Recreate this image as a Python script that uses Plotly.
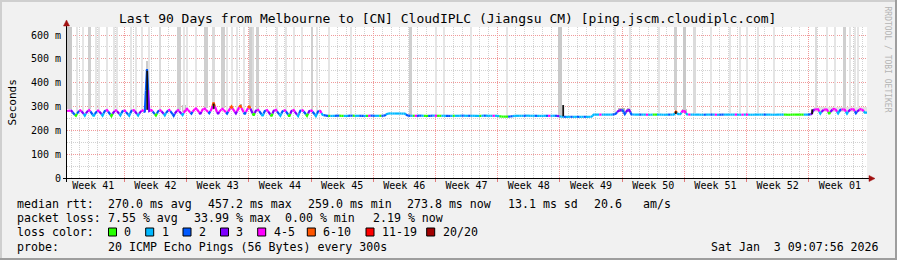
import numpy as np
import plotly.graph_objects as go

# ------------------------------------------------------------------ data
SAMPLE_DAYS = 0.25          # one consolidated sample every 6 hours, 90 days

# median rtt (ms), one row per day, 4 samples per day
rtt_ms = [
    281, 283, 282, 270,  261, 279, 284, 276,  262, 280, 285, 274,  259, 278, 283, 275,   # d0-3
    262, 281, 285, 273,  260, 279, 284, 276,  263, 280, 283, 272,  261, 282, 285, 275,   # d4-7
    262, 279, 284, 276,  457, 281, 285, 274,  262, 280, 284, 277,  263, 281, 286, 275,   # d8-11
    261, 279, 285, 276,  264, 282, 290, 280,  270, 286, 292, 283,  268, 287, 291, 282,   # d12-15
    272, 288, 317, 285,  269, 286, 290, 281,  270, 287, 300, 284,  271, 288, 305, 283,   # d16-19
    268, 286, 302, 282,  262, 283, 286, 275,  260, 281, 285, 274,  259, 282, 286, 273,   # d20-23
    261, 280, 284, 275,  258, 281, 285, 272,  260, 282, 284, 274,  261, 280, 283, 273,   # d24-27
    260, 279, 281, 265,  262, 261, 261, 260,  261, 261, 262, 261,  261, 260, 261, 261,   # d28-31
    262, 261, 261, 261,  261, 261, 260, 261,  261, 262, 261, 261,  261, 261, 261, 262,   # d32-35
    270, 271, 271, 270,  271, 270, 271, 270,  270, 262, 261, 261,  261, 261, 261, 262,   # d36-39
    261, 261, 260, 261,  261, 262, 261, 261,  261, 261, 261, 261,  260, 261, 261, 261,   # d40-43
    261, 261, 262, 261,  261, 261, 261, 261,  261, 260, 261, 261,  262, 261, 261, 261,   # d44-47
    261, 261, 261, 258,  257, 258, 257, 258,  258, 261, 261, 261,  261, 261, 261, 262,   # d48-51
    261, 261, 261, 261,  261, 260, 261, 261,  261, 261, 261, 261,  261, 261, 257, 257,   # d52-55
    257, 256, 257, 257,  256, 257, 257, 256,  257, 257, 256, 257,  257, 266, 266, 266,   # d56-59
    266, 266, 266, 266,  266, 266, 266, 270,  282, 285, 284, 268,  283, 285, 267, 266,   # d60-63
    266, 266, 266, 266,  266, 266, 265, 266,  266, 266, 266, 266,  266, 265, 266, 266,   # d64-67
    266, 266, 279, 268,  268, 281, 280, 267,  266, 266, 266, 266,  266, 266, 265, 266,   # d68-71
    266, 266, 266, 266,  266, 265, 266, 266,  266, 266, 266, 266,  266, 266, 266, 265,   # d72-75
    266, 266, 266, 266,  265, 266, 266, 266,  266, 266, 266, 266,  266, 266, 265, 266,   # d76-79
    266, 266, 266, 266,  266, 265, 266, 266,  266, 266, 266, 266,  266, 266, 266, 268,   # d80-83
    286, 289, 288, 270,  284, 289, 287, 269,  285, 290, 286, 271,  286, 289, 287, 270,   # d84-87
    285, 290, 288, 272,  284, 289, 286, 274,                                             # d88-89
]

# lost pings out of 20 for the same samples
loss_cnt = [
    4, 4, 3, 2,  0, 2, 4, 3,  1, 3, 4, 2,  1, 2, 5, 3,   # d0-3
    1, 2, 4, 2,  0, 3, 4, 3,  1, 2, 5, 2,  1, 2, 4, 3,   # d4-7
    1, 3, 4, 2,  2, 3, 4, 2,  0, 2, 5, 3,  1, 2, 4, 2,   # d8-11
    2, 3, 4, 3,  1, 4, 5, 4,  2, 4, 5, 4,  3, 5, 4, 4,   # d12-15
    2, 4, 8, 4,  3, 4, 5, 4,  2, 4, 7, 4,  3, 5, 9, 4,   # d16-19
    2, 4, 7, 3,  0, 3, 4, 2,  1, 2, 4, 3,  0, 3, 5, 2,   # d20-23
    1, 2, 4, 2,  0, 3, 4, 3,  1, 2, 5, 2,  0, 3, 4, 2,   # d24-27
    1, 2, 4, 1,  2, 2, 0, 1,  1, 2, 2, 0,  0, 1, 1, 2,   # d28-31
    2, 0, 1, 1,  2, 2, 1, 0,  4, 2, 2, 1,  1, 0, 2, 2,   # d32-35
    1, 1, 1, 1,  1, 1, 1, 1,  1, 2, 2, 1,  0, 4, 2, 2,   # d36-39
    1, 0, 0, 2,  2, 1, 4, 0,  0, 1, 1, 2,  2, 1, 0, 1,   # d40-43
    1, 1, 2, 1,  1, 2, 1, 1,  1, 1, 0, 1,  2, 1, 1, 1,   # d44-47
    4, 1, 1, 0,  0, 0, 0, 2,  2, 1, 1, 1,  1, 1, 2, 1,   # d48-51
    1, 1, 1, 2,  1, 1, 1, 1,  2, 4, 1, 1,  2, 3, 1, 1,   # d52-55
    2, 1, 1, 2,  1, 1, 2, 1,  1, 2, 1, 1,  1, 1, 1, 1,   # d56-59
    4, 1, 1, 1,  1, 1, 2, 2,  3, 3, 2, 2,  3, 3, 2, 1,   # d60-63
    1, 1, 2, 1,  1, 4, 1, 1,  0, 0, 1, 1,  1, 1, 1, 2,   # d64-67
    1, 1, 7, 1,  1, 4, 4, 1,  4, 1, 1, 1,  1, 1, 1, 2,   # d68-71
    1, 1, 2, 1,  4, 1, 2, 2,  1, 1, 1, 1,  1, 4, 1, 1,   # d72-75
    4, 1, 4, 1,  1, 1, 1, 1,  1, 1, 2, 1,  1, 1, 1, 1,   # d76-79
    1, 1, 1, 0,  0, 0, 0, 0,  0, 0, 0, 0,  1, 1, 2, 3,   # d80-83
    3, 4, 4, 1,  3, 4, 4, 0,  3, 5, 4, 1,  2, 4, 4, 1,   # d84-87
    3, 4, 5, 2,  3, 4, 4, 1,                             # d88-89
]

loss_labels = ["0", "1", "2", "3", "4-5", "6-10", "11-19", "20/20"]
loss_upper = [0, 1, 2, 3, 5, 10, 19, 20]
loss_colors = ["#26ff00", "#00b8ff", "#0059ff", "#7e00ff",
               "#ff00ff", "#ff5500", "#ff0000", "#a10000"]

# smoke columns reaching above the chart (some pings > 630 ms): (start day, end day)
smoke_spans_days = [
    (0.00, 0.56), (1.02, 1.26), (1.72, 1.95), (2.36, 2.70), (3.19, 3.41), (3.52, 3.74),
    (4.42, 4.64), (5.21, 5.43), (5.55, 5.77), (7.12, 7.34), (7.69, 7.91), (8.36, 8.58),
    (9.15, 9.37), (10.35, 10.63), (12.38, 12.88), (13.10, 13.32), (13.42, 13.64),
    (14.44, 14.66), (15.41, 15.81), (16.29, 16.61), (17.33, 17.72), (17.92, 18.14),
    (18.49, 18.71), (19.05, 19.27), (19.84, 20.06), (20.48, 20.76), (20.85, 21.07),
    (21.21, 21.60), (23.55, 23.77), (24.56, 24.78), (25.46, 25.68), (26.36, 26.58),
    (27.45, 27.73), (28.05, 28.27), (29.40, 29.62), (31.87, 32.09), (38.48, 38.76),
    (41.44, 41.66), (42.34, 42.56), (45.37, 45.59), (49.42, 49.64), (55.24, 55.74),
    (61.57, 61.79), (63.26, 63.48), (66.52, 66.74), (68.38, 68.60), (69.39, 69.61),
    (70.43, 70.71), (72.37, 72.59), (74.51, 74.73), (75.64, 75.86), (76.42, 76.64),
    (77.66, 77.88), (79.46, 79.68), (84.15, 84.43), (85.42, 85.64), (86.32, 86.54),
    (87.30, 87.69), (88.01, 88.23), (88.57, 88.79), (88.91, 89.13),
]
smoke_density = [
    0.45, 0.22, 0.22, 0.40, 0.22, 0.22, 0.22, 0.22, 0.22, 0.22, 0.22, 0.22,
    0.22, 0.30, 0.40, 0.22, 0.22, 0.22, 0.40, 0.30, 0.40, 0.22, 0.22, 0.22,
    0.22, 0.40, 0.30, 0.40, 0.22, 0.22, 0.22, 0.22, 0.40, 0.22, 0.22, 0.22,
    0.40, 0.22, 0.22, 0.22, 0.22, 0.45, 0.22, 0.22, 0.22, 0.40, 0.45, 0.30,
    0.22, 0.22, 0.22, 0.22, 0.22, 0.22, 0.30, 0.22, 0.22, 0.40, 0.22, 0.22,
    0.22,
]
smoke_top_ms = 700

# local smoke just above the median line: (start day, end day), top ms, density
halo_spans_days = [(8.90, 9.15), (12.95, 13.55), (18.45, 18.65), (19.45, 19.70),
                   (20.45, 20.70), (62.00, 62.75), (63.00, 63.50), (69.20, 69.70),
                   (84.00, 89.95)]
halo_top_ms = [490, 306, 304, 310, 306, 293, 293, 288, 297]
halo_density = [0.30, 0.35, 0.40, 0.40, 0.40, 0.40, 0.40, 0.35, 0.16]

# dense smoke cores (all pings in a narrow band): centre day, low ms, high ms
core_day = [9.02, 16.50, 55.82, 68.49, 83.83]
core_lo_ms = [286, 290, 259, 268, 268]
core_hi_ms = [450, 312, 306, 280, 288]

week_labels = ["Week 41", "Week 42", "Week 43", "Week 44", "Week 45", "Week 46", "Week 47",
               "Week 48", "Week 49", "Week 50", "Week 51", "Week 52", "Week 01"]
first_week_start_day = 6.45    # first week boundary after graph start
y_tick_ms = [0, 100, 200, 300, 400, 500, 600]
y_tick_text = ["0", "100 m", "200 m", "300 m", "400 m", "500 m", "600 m"]

title_text = "Last 90 Days from Melbourne to [CN] CloudIPLC (Jiangsu CM) [ping.jscm.cloudiplc.com]"
rtt_items = ["median rtt:", "270.0 ms avg", "457.2 ms max", "259.0 ms min",
             "273.8 ms now", "13.1 ms sd", "20.6", "am/s"]
loss_items = ["packet loss:", "7.55 % avg", "33.99 % max", "0.00 % min", "2.19 % now"]
probe_items = ["probe:", "20 ICMP Echo Pings (56 Bytes) every 300s"]
date_text = "Sat Jan  3 09:07:56 2026"

# ------------------------------------------------------------------ geometry
W, H = 897, 260
PL, PR, PT, PB = 67, 867, 27, 178
X_RANGE = [0, 90]
Y_RANGE = [0, 633.6]
MONO = "DejaVu Sans Mono"


def fx(px):
    return (px - PL) / (PR - PL)


def fy(py):
    return (PB - py) / (PB - PT)


def nb(s):
    return s.replace(" ", "\u00a0")


def gray(d, k=120):
    g = int(round(255 - d * k))
    return f"rgb({g},{g},{g})"


sample_day = np.arange(len(rtt_ms)) * SAMPLE_DAYS
rtt = np.array(rtt_ms, dtype=float)
n = len(rtt)


def loss_bin(c):
    for j, u in enumerate(loss_upper):
        if c <= u:
            return j
    return len(loss_upper) - 1


fig = go.Figure()

# halos (drawn first, below the columns)
hc = [(a + b) / 2 for a, b in halo_spans_days]
hw = [b - a for a, b in halo_spans_days]
hlo = [float(np.interp(c, sample_day, rtt)) - 6 for c in hc]
fig.add_trace(go.Bar(
    x=hc, width=hw, base=hlo, y=[t - l for t, l in zip(halo_top_ms, hlo)],
    marker=dict(color=[gray(d, 170) for d in halo_density], line=dict(width=0)),
    hoverinfo="skip"))

# smoke columns
sc = [(a + b) / 2 for a, b in smoke_spans_days]
sw = [b - a for a, b in smoke_spans_days]
slo = [float(np.interp(c, sample_day, rtt)) + 5 for c in sc]
fig.add_trace(go.Bar(
    x=sc, width=sw, base=slo, y=[smoke_top_ms - l for l in slo],
    marker=dict(color=[gray(d) for d in smoke_density], line=dict(width=0)),
    hoverinfo="skip"))

# median line coloured by loss
seg_x = [[] for _ in loss_colors]
seg_y = [[] for _ in loss_colors]
for i in range(n):
    b = loss_bin(loss_cnt[i])
    xl = sample_day[i] - SAMPLE_DAYS / 2 if i > 0 else sample_day[0]
    yl = (rtt[i - 1] + rtt[i]) / 2 if i > 0 else rtt[0]
    xr = sample_day[i] + SAMPLE_DAYS / 2 if i < n - 1 else sample_day[i] + SAMPLE_DAYS
    yr = (rtt[i] + rtt[i + 1]) / 2 if i < n - 1 else rtt[i]
    seg_x[b] += [xl, sample_day[i], xr, None]
    seg_y[b] += [yl, rtt[i], yr, None]
for b, col in enumerate(loss_colors):
    if seg_x[b]:
        fig.add_trace(go.Scatter(x=seg_x[b], y=seg_y[b], mode="lines",
                                 line=dict(color=col, width=2.2), hoverinfo="skip"))

# dense cores drawn on top of the median
cx, cy = [], []
for d, lo, hi in zip(core_day, core_lo_ms, core_hi_ms):
    cx += [d, d, None]
    cy += [lo, hi, None]
fig.add_trace(go.Scatter(x=cx, y=cy, mode="lines",
                         line=dict(color="#111111", width=1.8), hoverinfo="skip"))

# helper trace for the week-boundary axis
week_bounds = [first_week_start_day + 7 * k for k in range(-1, 13)]
week_centers = [first_week_start_day + 7 * k - 3.5 for k in range(0, 13)]
fig.add_trace(go.Scatter(x=[0], y=[0], xaxis="x2", mode="markers",
                         marker=dict(opacity=0), hoverinfo="skip"))

fig.update_layout(
    width=W, height=H,
    margin=dict(l=PL, r=W - PR, t=PT, b=H - PB, pad=0),
    paper_bgcolor="#f1f1f1", plot_bgcolor="#ffffff",
    showlegend=False, barmode="overlay", bargap=0,
    font=dict(family=MONO, size=10, color="#000000"),
    xaxis=dict(range=X_RANGE, tickmode="array", tickvals=week_centers, ticktext=week_labels,
               ticks="", showgrid=False, zeroline=False, showline=False,
               tickfont=dict(family=MONO, size=10, color="#000000"),
               minor=dict(tickmode="linear", tick0=first_week_start_day, dtick=1,
                          showgrid=True, gridcolor="#d2d2d2", griddash="1px,1px", gridwidth=1,
                          ticks="")),
    xaxis2=dict(range=X_RANGE, overlaying="x", anchor="y", side="bottom",
                tickmode="array", tickvals=week_bounds, showticklabels=False,
                showgrid=True, gridcolor="#f09a9a", griddash="1px,1px", gridwidth=1,
                ticks="outside", ticklen=3, tickcolor="#e07a7a", zeroline=False, showline=False),
    yaxis=dict(range=Y_RANGE, tickmode="array", tickvals=y_tick_ms, ticktext=y_tick_text,
               ticks="", showgrid=True, gridcolor="#f09a9a", griddash="1px,1px", gridwidth=1,
               zeroline=False, showline=False, ticklabelstandoff=5,
               tickfont=dict(family=MONO, size=10, color="#000000"),
               minor=dict(tickmode="linear", tick0=0, dtick=50, showgrid=True,
                          gridcolor="#d2d2d2", griddash="1px,1px", gridwidth=1, ticks="")),
)

shapes = []


def rect(x0, y0, x1, y1, color):
    shapes.append(dict(type="rect", xref="paper", yref="paper",
                       x0=fx(x0), x1=fx(x1), y0=fy(y1), y1=fy(y0),
                       fillcolor=color, line=dict(width=0), layer="above"))


def line(x0, y0, x1, y1, color, w=1):
    shapes.append(dict(type="line", xref="paper", yref="paper",
                       x0=fx(x0), x1=fx(x1), y0=fy(y0), y1=fy(y1),
                       line=dict(color=color, width=w), layer="above"))


def poly(pts, color):
    d = "M " + " L ".join(f"{fx(a):.5f},{fy(b):.5f}" for a, b in pts) + " Z"
    shapes.append(dict(type="path", xref="paper", yref="paper", path=d,
                       fillcolor=color, line=dict(color=color, width=0.5), layer="above"))


# 3D frame
rect(0, 0, W, 2, "#cfcfcf")
rect(0, 0, 2, H, "#cfcfcf")
rect(0, H - 2, W, H, "#9e9e9e")
rect(W - 2, 0, W, H, "#9e9e9e")

# axes with arrows
line(63, 178.5, 869, 178.5, "#000000", 1)
line(66.5, 182, 66.5, 25, "#000000", 1)
poly([(869, 175.5), (875, 178.5), (869, 181.5)], "#a01010")
poly([(63.5, 26), (66.5, 20), (69.5, 26)], "#a01010")

# legend swatches
sw_x = [108.5, 145.7, 183, 220.5, 257.7, 307.3, 366, 426.7]
lab_x = [123.3, 161, 197.7, 235, 272.7, 321.7, 381, 441.7]
for sx, col in zip(sw_x, loss_colors):
    shapes.append(dict(type="rect", xref="paper", yref="paper",
                       x0=fx(sx), x1=fx(sx + 8), y0=fy(236), y1=fy(228),
                       fillcolor=col, line=dict(color="#000000", width=1), layer="above"))
fig.update_layout(shapes=shapes)

ann = []
LF = 11.6


def text(px, py, s, size=LF, anchor="left", color="#000000", angle=0):
    ann.append(dict(xref="paper", yref="paper", x=fx(px), y=fy(py), text=nb(s),
                    showarrow=False, xanchor=anchor, yanchor="middle", textangle=angle,
                    font=dict(family=MONO, size=size, color=color), borderpad=0))


text(447, 19, title_text, size=13, anchor="center")
text(11.5, 102, "Seconds", size=11, anchor="center", angle=-90)
text(887.5, 59, "RRDTOOL / TOBI OETIKER", size=8, anchor="center", color="#b4b4b4", angle=90)

for s, px in zip(rtt_items, [16, 107.3, 207.3, 307, 406, 507, 593, 642]):
    text(px, 204, s)
for s, px in zip(loss_items, [16, 107.3, 193, 284, 372]):
    text(px, 218, s)
text(16, 232, "loss color:")
for s, px in zip(loss_labels, lab_x):
    text(px, 232, s)
text(16, 246.5, probe_items[0])
text(107.3, 246.5, probe_items[1])
text(880, 246.5, date_text, anchor="right")
fig.update_layout(annotations=ann)

fig.write_html("out.html")
